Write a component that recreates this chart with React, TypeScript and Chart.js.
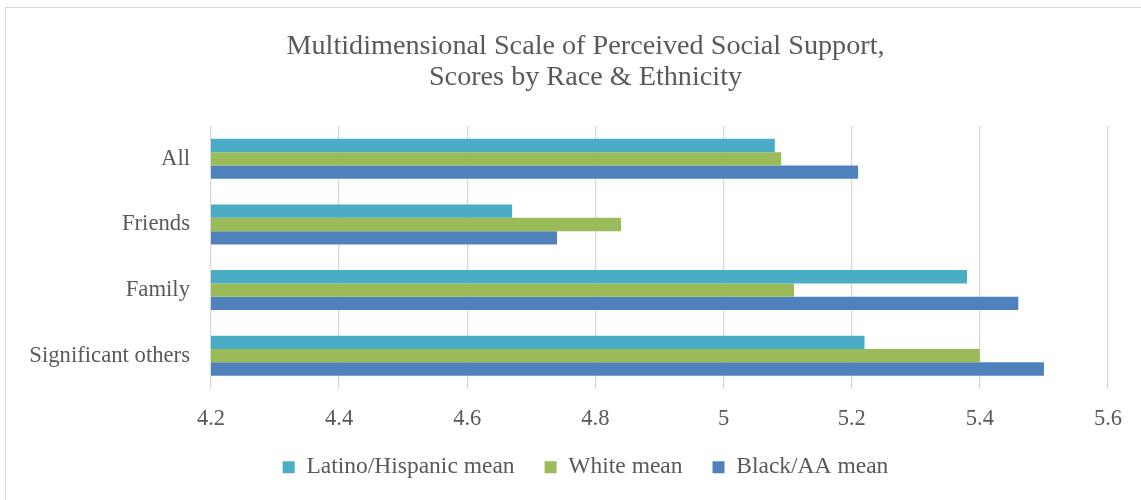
import React, { useEffect, useRef } from "react";
import { Chart, registerables } from "chart.js";

Chart.register(...registerables);

const categories = ["All", "Friends", "Family", "Significant others"];
const latinoMean = [5.08, 4.67, 5.38, 5.22];
const whiteMean = [5.09, 4.84, 5.11, 5.4];
const blackMean = [5.21, 4.74, 5.46, 5.5];
const seriesNames = ["Latino/Hispanic mean", "White mean", "Black/AA mean"];
const seriesColors = ["#4BACC6", "#9BBB59", "#4F81BD"];
const titleLines = [
  "Multidimensional Scale of Perceived Social Support,",
  "Scores by Race & Ethnicity",
];
const xMin = 4.2;
const xMax = 5.6;
const xStep = 0.2;

const FONT = "'Liberation Serif', 'Times New Roman', serif";
const TEXT = "#595959";

export default function App() {
  const ref = useRef<HTMLCanvasElement | null>(null);

  useEffect(() => {
    if (!ref.current) return;
    const values = [latinoMean, whiteMean, blackMean];
    const chart = new Chart(ref.current, {
      type: "bar",
      data: {
        labels: categories,
        datasets: seriesNames.map((name, i) => ({
          label: name,
          data: values[i],
          backgroundColor: seriesColors[i],
          borderWidth: 0,
          categoryPercentage: 0.61,
          barPercentage: 1,
        })),
      },
      options: {
        indexAxis: "y",
        animation: false,
        responsive: false,
        maintainAspectRatio: false,
        layout: { padding: { top: 23.5, left: 0, right: 0, bottom: 19 } },
        plugins: {
          title: {
            display: true,
            text: titleLines,
            color: TEXT,
            font: { family: FONT, size: 28.2, weight: "normal", lineHeight: 1.1 },
            padding: { top: 0, bottom: 32.5 },
          },
          legend: {
            position: "bottom",
            labels: {
              color: TEXT,
              font: { family: FONT, size: 23.5 },
              boxWidth: 12,
              boxHeight: 12,
              padding: 30,
            },
          },
          tooltip: { enabled: false },
        },
        scales: {
          x: {
            min: xMin,
            max: xMax,
            ticks: {
              stepSize: xStep,
              color: TEXT,
              font: { family: FONT, size: 22.5 },
              padding: 17,
              callback: (v: any) => String(Number(Number(v).toFixed(1))),
            },
            grid: { color: "#d9d9d9", lineWidth: 1.3, drawTicks: false },
            border: { display: false },
            afterFit: (s: any) => {
              s.height = 37;
            },
          },
          y: {
            ticks: {
              color: TEXT,
              font: { family: FONT, size: 22.7 },
              padding: 21,
            },
            grid: { display: false, drawTicks: false },
            border: { display: false },
            afterFit: (s: any) => {
              s.width = 205;
            },
          },
          yRight: {
            type: "category",
            position: "right",
            labels: categories,
            ticks: { display: false },
            grid: { display: false, drawTicks: false },
            border: { display: false },
            afterFit: (s: any) => {
              s.width = 57;
            },
          },
        },
      },
    });
    return () => chart.destroy();
  }, []);

  return (
    <div
      style={{
        position: "fixed",
        left: 5,
        top: 7,
        width: 1136,
        height: 493,
        overflow: "hidden",
        background: "#fff",
      }}
    >
      <div
        style={{
          borderLeft: "1px solid #d9d9d9",
          borderTop: "1px solid #d9d9d9",
          width: 1160,
          height: 520,
        }}
      >
        <canvas ref={ref} width={1159} height={500} style={{ display: "block" }} />
      </div>
    </div>
  );
}
